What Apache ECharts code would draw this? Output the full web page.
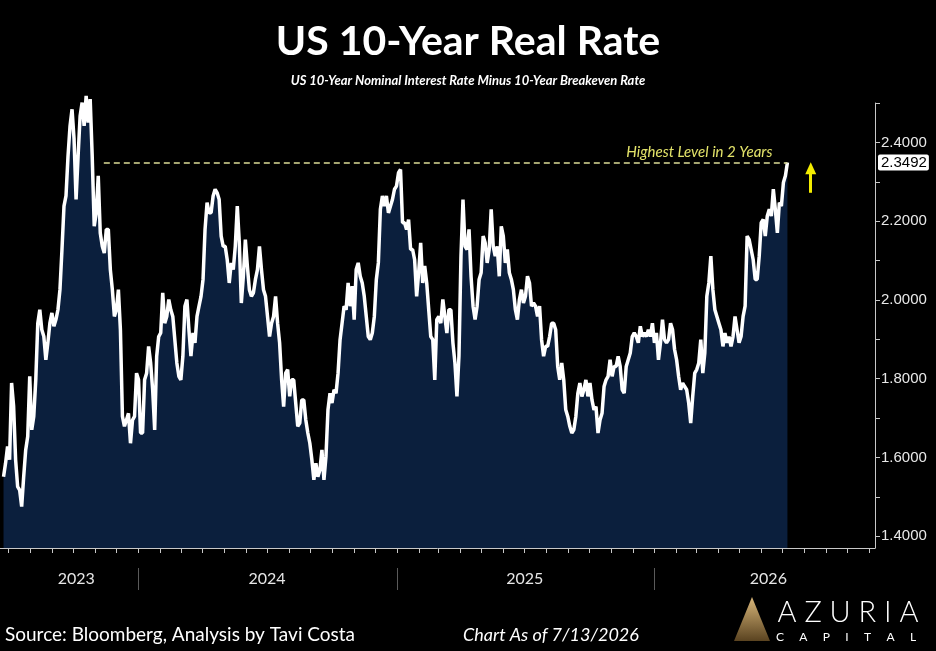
<!DOCTYPE html>
<html><head><meta charset="utf-8">
<script src="https://cdn.jsdelivr.net/npm/echarts@6/dist/echarts.min.js"></script>
<style>html,body{margin:0;padding:0;background:#000}#c{width:936px;height:651px}</style>
</head><body><div id="c"></div>
<script>
// ---- data ----
const firstDate = Date.UTC(2023, 5, 24);
const lastDate = Date.UTC(2026, 6, 8);
const realRate = [
1.551,1.585,1.628,1.594,1.789,1.730,1.594,1.526,1.517,1.475,
1.551,1.619,1.653,1.806,1.670,1.704,1.797,1.941,1.975,1.924,
1.907,1.848,1.891,1.941,1.967,1.933,1.950,1.975,2.026,2.128,
2.238,2.264,2.365,2.442,2.484,2.408,2.255,2.365,2.467,2.501,
2.442,2.518,2.450,2.510,2.365,2.187,2.221,2.315,2.170,2.136,
2.119,2.179,2.179,2.077,2.026,1.958,1.975,2.026,1.924,1.704,
1.679,1.695,
1.712,1.636,1.695,1.704,1.814,1.797,1.662,1.662,1.797,1.814,
1.882,1.840,1.772,1.670,1.857,1.907,1.916,2.018,1.941,1.958,
2.001,1.975,1.958,1.899,1.840,1.806,1.797,1.857,1.984,2.001,
1.924,1.857,1.916,1.891,1.958,1.984,2.009,2.052,2.179,2.247,
2.221,2.221,2.264,2.281,2.272,2.255,2.162,2.136,2.136,2.102,
2.043,2.094,2.077,2.136,2.238,2.145,1.992,2.060,2.153,2.086,
2.026,2.009,2.018,2.052,
2.077,2.136,2.077,2.026,2.009,1.958,1.907,1.941,1.958,2.009,
1.941,1.891,1.797,1.729,1.814,1.823,1.755,1.797,1.797,1.738,
1.679,1.687,1.746,1.746,1.695,1.662,1.636,1.594,1.543,1.585,
1.551,1.568,1.619,1.543,1.602,1.721,1.763,1.738,1.772,1.763,
1.814,1.899,1.941,1.984,1.975,2.043,1.984,2.035,1.950,2.077,
2.094,2.060,2.043,2.009,1.958,1.907,1.899,1.916,1.958,2.052,
2.094,2.230,2.264,2.238,2.264,2.221,
2.238,2.255,2.281,2.289,2.323,2.331,2.196,2.196,2.179,2.204,
2.128,2.128,2.102,2.009,2.069,2.145,2.043,2.086,2.043,1.975,
1.907,1.899,1.797,1.950,1.958,1.941,2.001,1.958,1.916,1.975,
1.975,1.891,1.840,1.755,1.857,2.111,2.255,2.136,2.128,2.179,
2.060,1.984,1.950,1.984,2.052,2.069,2.162,2.145,2.094,2.128,
2.230,2.136,2.111,2.136,2.060,2.187,2.162,2.094,2.128,2.069,
2.052,2.026,1.975,1.950,2.001,
2.026,1.992,2.009,2.060,2.043,1.984,1.992,1.984,1.958,1.984,
1.899,1.857,1.882,1.882,1.907,1.941,1.941,1.924,1.831,1.797,
1.840,1.797,1.721,1.704,1.679,1.662,1.670,1.704,1.763,1.789,
1.755,1.772,1.797,1.755,1.789,1.746,1.721,1.729,1.662,1.695,
1.712,1.780,1.797,1.806,1.848,1.806,1.831,1.831,1.857,1.831,
1.772,1.763,1.831,1.848,1.865,1.907,1.916,1.907,1.891,1.933,
1.907,1.916,1.907,1.924,1.907,
1.941,1.891,1.916,1.848,1.891,1.950,1.899,1.891,1.899,1.941,
1.924,1.874,1.848,1.806,1.772,1.789,1.780,1.772,1.738,1.687,
1.755,1.814,1.823,1.840,1.899,1.814,1.865,2.009,2.043,2.111,
2.026,1.975,1.958,1.941,1.924,1.882,1.916,1.891,1.907,1.882,
1.907,1.958,1.924,1.891,1.907,1.958,1.984,2.162,2.153,2.128,
2.102,2.052,2.052,2.111,2.196,2.204,2.162,2.213,2.230,2.213,
2.281,2.230,2.170,2.247,2.238,2.298,2.315,2.3492
];
const yTickLabels = [1.4, 1.6, 1.8, 2.0, 2.2, 2.4];
const yMinorTicks = [1.4, 1.5, 1.6, 1.7, 1.8, 1.9, 2.0, 2.1, 2.2, 2.3, 2.4, 2.5];
const yearLabels = ['2023', '2024', '2025', '2026'];
const yearLabelDates = [Date.UTC(2023, 9, 5), Date.UTC(2024, 6, 1), Date.UTC(2025, 6, 1), Date.UTC(2026, 5, 11)];
const yearStarts = [Date.UTC(2024, 0, 1), Date.UTC(2025, 0, 1), Date.UTC(2026, 0, 1)];
const annotationText = 'Highest Level in 2 Years';
const highLevelStart = Date.UTC(2023, 10, 13);
const arrowDate = Date.UTC(2026, 7, 10);
const arrowFrom = 2.272, arrowTo = 2.334;

// ---- build ----
const lastValue = realRate[realRate.length - 1];
const step = (lastDate - firstDate) / (realRate.length - 1);
const points = realRate.map((v, i) => [firstDate + i * step, v]);
const xMin = Date.UTC(2023, 5, 19), xMax = Date.UTC(2026, 10, 9);
const monthTicks = [];
for (let y = 2023; y <= 2026; y++) for (let m = 0; m < 12; m++) {
  const t = Date.UTC(y, m, 1);
  if (t > xMin && t < xMax) monthTicks.push(t);
}
const axisGrey = '#c8c8c8';
const chart = echarts.init(document.getElementById('c'), null, {renderer: 'canvas'});
chart.setOption({
  backgroundColor: '#000',
  animation: false,
  title: [
    {text: 'US 10-Year Real Rate', left: 'center', top: 16,
     textStyle: {color: '#fff', fontFamily: 'Lato', fontWeight: 'bold', fontSize: 41}},
    {text: 'US 10-Year Nominal Interest Rate Minus 10-Year Breakeven Rate', left: 'center', top: 69,
     textStyle: {color: '#fff', fontFamily: 'Lato', fontStyle: 'italic', fontWeight: 'bold', fontSize: 13}}
  ],
  grid: {left: 0, right: 61, top: 103, bottom: 103, containLabel: false, outerBoundsMode: 'none'},
  xAxis: [
    {type: 'value', min: xMin, max: xMax, position: 'bottom',
     axisLine: {show: true, lineStyle: {color: axisGrey, width: 1}},
     axisTick: {show: true, customValues: monthTicks, length: 5, lineStyle: {color: axisGrey}},
     axisLabel: {show: false}, splitLine: {show: false}},
    {type: 'value', min: xMin, max: xMax, position: 'bottom', offset: 20,
     axisLine: {show: false},
     axisTick: {show: true, customValues: yearStarts, length: 22, lineStyle: {color: '#5a5a5a', width: 1}},
     axisLabel: {show: true, customValues: yearLabelDates, margin: 3,
       formatter: v => yearLabels[yearLabelDates.indexOf(v)] || String(new Date(v).getUTCFullYear()),
       color: '#e6e6e6', fontFamily: 'Lato', fontSize: 16},
     splitLine: {show: false}}
  ],
  yAxis: [
    {type: 'value', position: 'right', min: 1.37, max: 2.5,
     axisLine: {show: true, lineStyle: {color: axisGrey, width: 1}},
     axisTick: {show: true, customValues: yMinorTicks, length: 5, lineStyle: {color: axisGrey}},
     axisLabel: {show: true, customValues: yTickLabels, formatter: v => v.toFixed(4), margin: 6,
       color: '#e8e8e8', fontFamily: 'Liberation Sans', fontSize: 15},
     splitLine: {show: false}},
    {type: 'value', position: 'right', min: 1.37, max: 2.5,
     axisLine: {show: false}, axisTick: {show: false}, splitLine: {show: false},
     axisLabel: {show: true, customValues: [lastValue], formatter: v => v.toFixed(4), margin: 3,
       color: '#000', backgroundColor: '#fff', padding: [1, 2, 0, 3], borderRadius: 2,
       fontFamily: 'Liberation Sans', fontSize: 15}}
  ],
  series: [{
    type: 'line', data: points, xAxisIndex: 0, yAxisIndex: 0,
    showSymbol: false, symbol: 'none', clip: false,
    lineStyle: {color: '#ffffff', width: 3.5},
    areaStyle: {color: '#0b1f3d', opacity: 1},
    markLine: {
      silent: true, animation: false, symbol: ['none', 'none'],
      data: [
        [{coord: [highLevelStart, lastValue],
          lineStyle: {color: '#dcdc96', type: [6, 4], width: 1.5},
          label: {show: true, position: 'insideEndTop', formatter: annotationText,
                  color: '#e4e46a', fontStyle: 'italic', fontSize: 15, fontFamily: 'Lato', distance: [15, 3]}},
         {coord: [lastDate, lastValue]}],
        [{coord: [arrowDate, arrowFrom], symbol: 'none',
          lineStyle: {color: '#f3ec00', width: 3, type: 'solid'}, label: {show: false}},
         {coord: [arrowDate, arrowTo], symbol: 'triangle', symbolSize: [11, 12]}]
      ]
    }
  }],
  graphic: [
    {type: 'text', x: 5, y: 635, style: {text: 'Source: Bloomberg, Analysis by Tavi Costa', fill: '#ffffff',
      font: '19px Lato', textVerticalAlign: 'middle'}},
    {type: 'text', x: 463, y: 635, style: {text: 'Chart As of 7/13/2026', fill: '#ffffff',
      font: 'italic 18px Lato', textVerticalAlign: 'middle'}},
    {type: 'polygon', shape: {points: [[752, 597], [734, 641], [770, 641]]},
     style: {fill: new echarts.graphic.LinearGradient(0, 0, 0, 1, [{offset: 0, color: '#d9b77a'}, {offset: 1, color: '#5a4320'}])}},
    {type: 'text', x: 848, y: 613, style: {text: 'A Z U R I A', fill: '#ffffff', font: '300 29px Lato',
      textAlign: 'center', textVerticalAlign: 'middle'}},
    {type: 'text', x: 846, y: 637, style: {text: 'C     A     P     I     T     A     L', fill: '#ffffff', font: '12px Lato',
      textAlign: 'center', textVerticalAlign: 'middle'}}
  ]
});
</script></body></html>
